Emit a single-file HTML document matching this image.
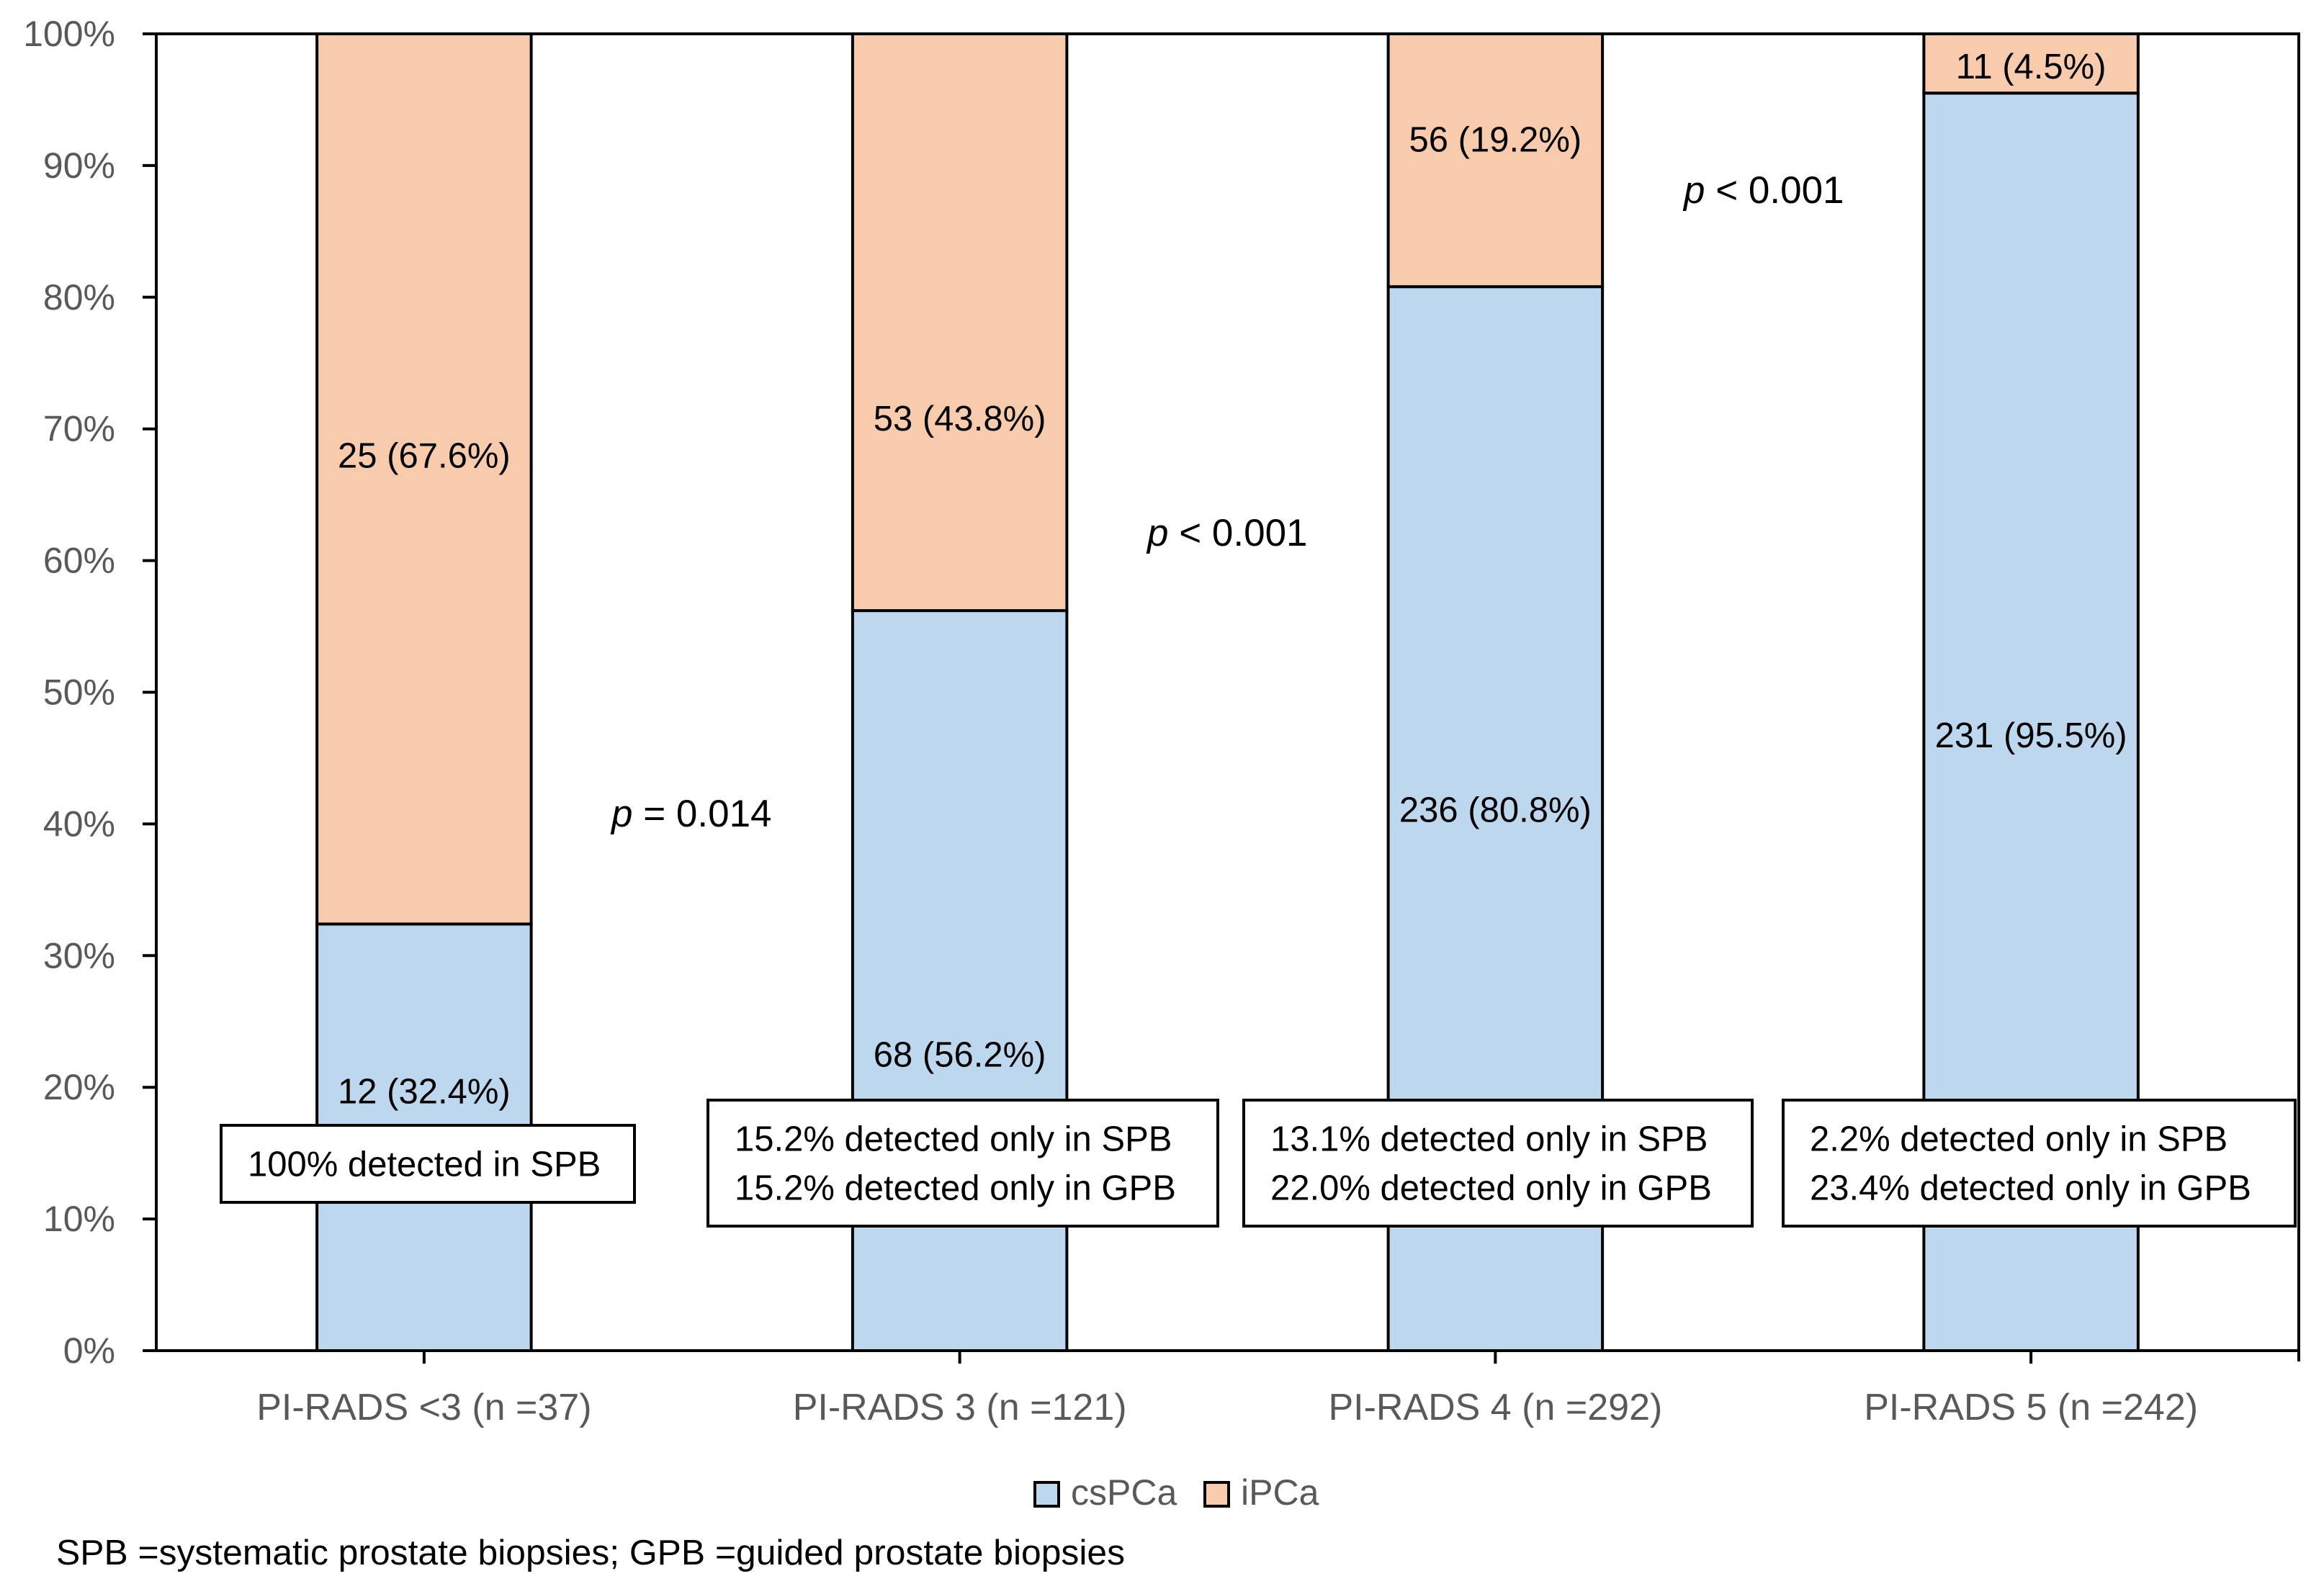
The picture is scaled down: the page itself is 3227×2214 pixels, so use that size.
<!DOCTYPE html>
<html><head><meta charset="utf-8"><style>
html,body{margin:0;padding:0;background:#fff;}
svg{display:block;}
text{font-family:"Liberation Sans",sans-serif;}
</style></head><body>
<svg id="chart" xmlns="http://www.w3.org/2000/svg" width="3227" height="2214" viewBox="0 0 3227 2214">
<rect x="0" y="0" width="3227" height="2214" fill="#fff"/>
<g id="plot"></g>
</svg>
<script>
const categories = ["PI-RADS <3 (n =37)", "PI-RADS 3 (n =121)", "PI-RADS 4 (n =292)", "PI-RADS 5 (n =242)"];
const csPCaCounts = [12, 68, 236, 231];
const csPCaPct = [32.4, 56.2, 80.8, 95.5];
const iPCaCounts = [25, 53, 56, 11];
const iPCaPct = [67.6, 43.8, 19.2, 4.5];
const yTicks = [0, 10, 20, 30, 40, 50, 60, 70, 80, 90, 100];
const csLabelShift = [3.5, -5.6, 0.7, -1.0];
const iLabelShift = [1.8, -7.3, 1.6, -0.2];

const NS = "http://www.w3.org/2000/svg";
const L = 217, R = 3192, T = 47, B = 1876;
const catW = (R - L) / categories.length;
const barW = catW * 0.4;
function xC(i){ return L + catW * (i + 0.5); }
function y(v){ return B - (v / 100) * (B - T); }
const g = document.getElementById("plot");
function mk(tag, attrs, parent){
  const e = document.createElementNS(NS, tag);
  for (const k in attrs) e.setAttribute(k, attrs[k]);
  (parent || g).appendChild(e);
  return e;
}
function txt(s, attrs, parent){ const e = mk("text", attrs, parent); e.textContent = s; return e; }

categories.forEach((c, i) => {
  const x0 = xC(i) - barW / 2;
  const b1 = mk("rect", {x: x0, y: y(csPCaPct[i]), width: barW, height: y(0) - y(csPCaPct[i]), fill: "#BDD7EE", stroke: "#000", "stroke-width": 4});
  
  
  const top = csPCaPct[i] + iPCaPct[i];
  const b2 = mk("rect", {x: x0, y: y(top), width: barW, height: y(csPCaPct[i]) - y(top), fill: "#F8CBAD", stroke: "#000", "stroke-width": 4});
  
  
});

const ax = mk("path", {d: `M${L},${T} V${B} H${R} V${T} H${L}`, fill: "none", stroke: "#000", "stroke-width": 4});


const rt = mk("line", {x1: R, y1: B, x2: R, y2: B + 15, stroke: "#000", "stroke-width": 4});


yTicks.forEach(v => {
  const t = mk("line", {x1: L - 19, y1: y(v), x2: L, y2: y(v), stroke: "#000", "stroke-width": 4});
  
  
  const lb = txt(v + "%", {x: 160, y: y(v) + 17, "text-anchor": "end", "font-size": 50, fill: "#595959"});
  
  
});
categories.forEach((c, i) => {
  const t = mk("line", {x1: xC(i), y1: B, x2: xC(i), y2: B + 18, stroke: "#000", "stroke-width": 4});
  
  
  const lb = txt(c, {x: xC(i), y: 1972, "text-anchor": "middle", "font-size": 52, fill: "#595959"});
  
  
});

categories.forEach((c, i) => {
  const cy = y(csPCaPct[i] / 2 + csLabelShift[i]);
  const a = txt(csPCaCounts[i] + " (" + csPCaPct[i].toFixed(1) + "%)", {x: xC(i), y: cy + 17, "text-anchor": "middle", "font-size": 49, fill: "#000"});
  
  
  const iy = y(csPCaPct[i] + iPCaPct[i] / 2 + iLabelShift[i]);
  const b = txt(iPCaCounts[i] + " (" + iPCaPct[i].toFixed(1) + "%)", {x: xC(i), y: iy + 17, "text-anchor": "middle", "font-size": 49, fill: "#000"});
  
  
});

function pval(s, x, yy, n){
  const t = mk("text", {x: x, y: yy, "font-size": 53, fill: "#000"});
  
  
  const a = document.createElementNS(NS, "tspan"); a.setAttribute("font-style", "italic"); a.textContent = "p"; t.appendChild(a);
  const b = document.createElementNS(NS, "tspan"); b.textContent = s; t.appendChild(b);
}
pval(" = 0.014", 849, 1148, 'p-value-1-2');
pval(" < 0.001", 1593, 758, 'p-value-2-3');
pval(" < 0.001", 2338, 282, 'p-value-3-4');

function box(x1, y1, x2, y2, lines, n){
  const grp = mk("g", {});
  
  
  mk("rect", {x: x1, y: y1, width: x2 - x1, height: y2 - y1, fill: "#fff", stroke: "#000", "stroke-width": 4}, grp);
  const cy = (y1 + y2) / 2;
  const lh = 68;
  lines.forEach((s, k) => {
    const yy = cy + (k - (lines.length - 1) / 2) * lh + 17;
    txt(s, {x: x1 + 37, y: yy, "font-size": 49, fill: "#000"}, grp);
  });
}
box(307, 1563, 881, 1670, ["100% detected in SPB"], 'annotation-box-1');
box(983, 1528, 1691, 1703, ["15.2% detected only in SPB", "15.2% detected only in GPB"], 'annotation-box-2');
box(1727, 1528, 2433, 1703, ["13.1% detected only in SPB", "22.0% detected only in GPB"], 'annotation-box-3');
box(2476, 1528, 3187, 1703, ["2.2% detected only in SPB", "23.4% detected only in GPB"], 'annotation-box-4');

const lg = mk("g", {});


const s1 = mk("rect", {x: 1437, y: 2059, width: 33, height: 33, fill: "#BDD7EE", stroke: "#000", "stroke-width": 4}, lg);


const t1 = txt("csPCa", {x: 1487, y: 2090, "font-size": 50, fill: "#595959"}, lg);


const s2 = mk("rect", {x: 1673, y: 2059, width: 33, height: 33, fill: "#F8CBAD", stroke: "#000", "stroke-width": 4}, lg);


const t2 = txt("iPCa", {x: 1723, y: 2090, "font-size": 50, fill: "#595959"}, lg);



const fn = txt("SPB =systematic prostate biopsies; GPB =guided prostate biopsies", {x: 78, y: 2173, "font-size": 49, fill: "#000", textLength: 1484, lengthAdjust: "spacingAndGlyphs"});


</script>
</body></html>
